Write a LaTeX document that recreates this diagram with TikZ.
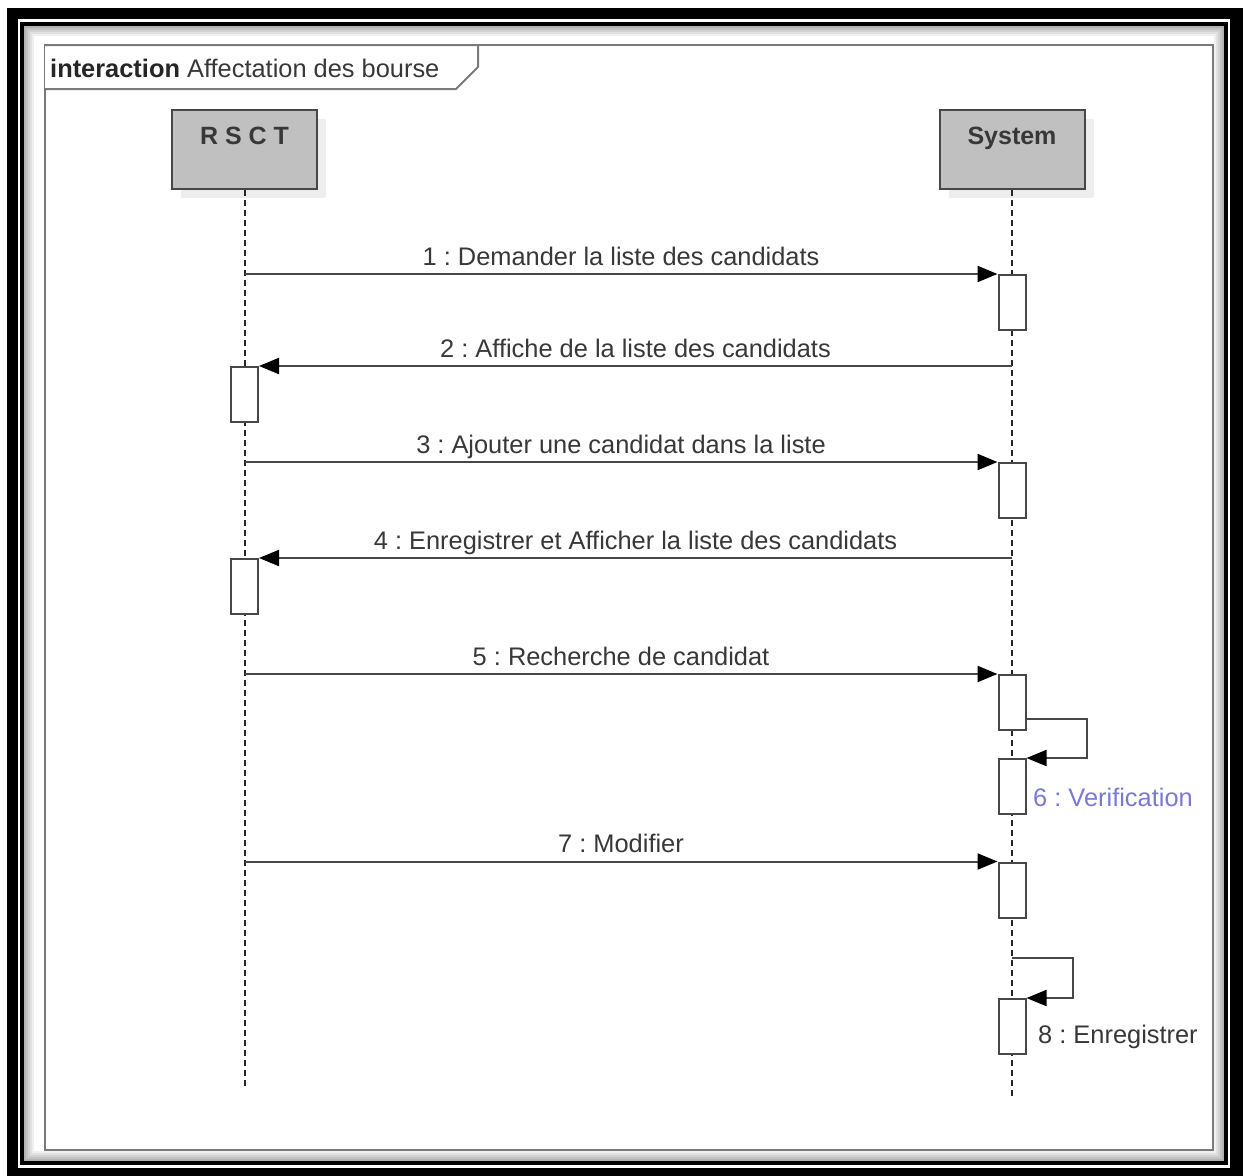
\documentclass[tikz,border=0pt]{standalone}
\usepackage{fontspec}
\setmainfont{Liberation Sans}
\usetikzlibrary{positioning,arrows.meta,shadows}
\definecolor{headfill}{HTML}{C0C0C0}
\definecolor{linegray}{HTML}{474747}
\definecolor{framegray}{HTML}{7A7A7A}
\definecolor{txtgray}{HTML}{383838}
\definecolor{msgblue}{HTML}{7A7AD2}
\frenchspacing

\begin{document}
\begin{tikzpicture}[%
    x=1pt, y=-1pt,
    >={Triangle[length=20pt,width=16pt,fill=black,color=black]},
    lbl/.style={%
      font=\fontsize{25.4}{30}\selectfont,
      text=txtgray,
      inner sep=0pt,
      text depth=0pt
    },
    head/.style={%
      draw=linegray,
      fill=headfill,
      line width=2pt,
      minimum width=145pt,
      inner sep=0pt,
      text height=34pt,
      text depth=45pt,
      font=\fontsize{25}{30}\selectfont\bfseries,
      text=txtgray,
      drop shadow={shadow xshift=9pt, shadow yshift=-9pt, fill=black!7, draw=none, opacity=1}
    },
    act/.style={%
      draw=linegray,
      fill=white,
      line width=2pt,
      minimum width=27pt,
      minimum height=55pt,
      inner sep=0pt
    },
    msg/.style={->, draw=linegray, line width=2pt},
    lifeline/.style={draw=black!85, line width=2pt, dash pattern=on 6pt off 4pt}
  ]
    \useasboundingbox (0,0) rectangle (1243,1176);

    % picture border
    \fill[black] (7,8) rectangle (1243,1176);
    \fill[white] (18,19) rectangle (1230,1168);
    \draw[black, line width=4pt] (22,23.5) rectangle (1225.5,1163);
    \fill[white] (24,25.5) rectangle (1223.5,1161);
    \foreach \i [evaluate=\i as \shade using int(30-6*\i)] in {0,...,4}
      \draw[black!\shade, line width=2pt] (25+2*\i,26.5+2*\i) rectangle (1222.5-2*\i,1160-2*\i);

    % interaction frame
    \draw[framegray, line width=2.5pt] (45,45) rectangle (1213,1150);
    \draw[framegray, line width=2pt, fill=white] (45,45) -- (478,45) -- (478,67) -- (456,89) -- (45,89);
    \node[lbl, anchor=base west] (title) at (50,77) {\textbf{\color{black!85}interaction} Affectation des bourse};

    % lifelines
    \node[head] (rsct) at (244.5,149.5) {R S C T};
    \node[head] (sys)  at (1012,149.5)  {System};
    \coordinate (rsctend) at (244.5,1088);
    \coordinate (sysend)  at (1012,1097);
    \draw[lifeline] (rsct.south) -- (rsctend);
    \draw[lifeline] (sys.south) -- (sysend);

    % activations
    \node[act] (a1) at (1012,302.5)  {};
    \node[act] (a2) at (244.5,394.5) {};
    \node[act] (a3) at (1012,490.5)  {};
    \node[act] (a4) at (244.5,586.5) {};
    \node[act] (a5) at (1012,702.5)  {};
    \node[act] (a6) at (1012,786.5)  {};
    \node[act] (a7) at (1012,890)    {};
    \node[act] (a8) at (1012,1026.5) {};

    % messages
    \draw[msg] (rsct |- a1.north) -- node[lbl, above=8pt] (m1) {1 : Demander la liste des candidats} (a1.north west);
    \draw[msg] (sys |- a2.north) -- node[lbl, above=8pt] (m2) {2 : Affiche de la liste des candidats} (a2.north east);
    \draw[msg] (rsct |- a3.north) -- node[lbl, above=8pt] (m3) {3 : Ajouter une candidat dans la liste} (a3.north west);
    \draw[msg] (sys |- a4.north) -- node[lbl, above=8pt] (m4) {4 : Enregistrer et Afficher la liste des candidats} (a4.north east);
    \draw[msg] (rsct |- a5.north) -- node[lbl, above=8pt] (m5) {5 : Recherche de candidat} (a5.north west);
    \draw[msg] ([yshift=12pt]a5.south east) -- ++(60,0) |- (a6.north east);
    \node[lbl, text=msgblue, anchor=base west] (m6) at (1033,806) {6 : Verification};
    \draw[msg] (rsct |- a7.north) -- node[lbl, above=8pt] (m7) {7 : Modifier} (a7.north west);
    \draw[msg] ([yshift=40pt]a8.north) -- ++(61,0) |- (a8.north east);
    \node[lbl, anchor=base west] (m8) at (1038,1043) {8 : Enregistrer};
\end{tikzpicture}
\end{document}
